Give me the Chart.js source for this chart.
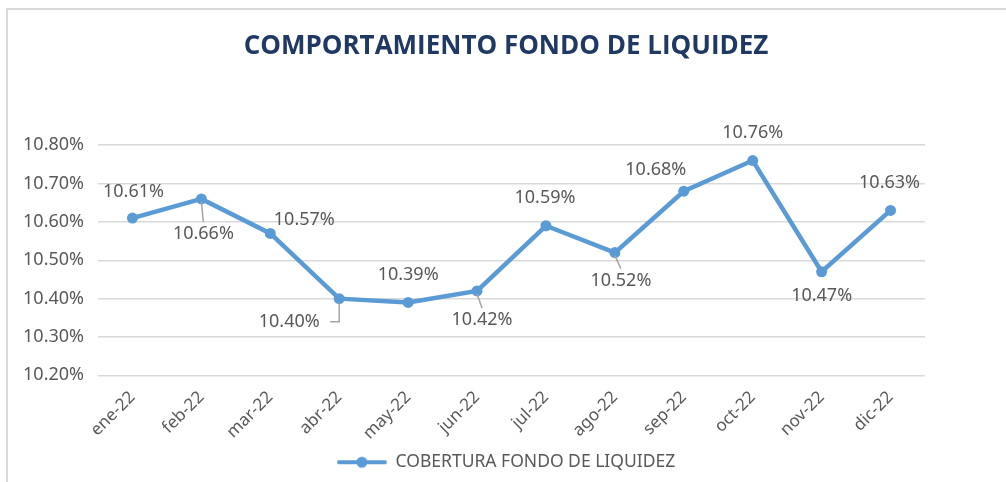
<!DOCTYPE html>
<html>
<head>
<meta charset="utf-8">
<script src="https://cdn.jsdelivr.net/npm/chart.js@4.4.0/dist/chart.umd.min.js"></script>
<style>
  html, body { margin: 0; padding: 0; background: #fff; }
  #wrap { position: relative; width: 1006px; height: 482px; }
</style>
</head>
<body>
<div id="wrap"><canvas id="liquidezChart"></canvas></div>
<script>
const months = ['ene-22', 'feb-22', 'mar-22', 'abr-22', 'may-22', 'jun-22',
                'jul-22', 'ago-22', 'sep-22', 'oct-22', 'nov-22', 'dic-22'];
const cobertura = [10.61, 10.66, 10.57, 10.40, 10.39, 10.42,
                   10.59, 10.52, 10.68, 10.76, 10.47, 10.63];
const yTicks = [10.20, 10.30, 10.40, 10.50, 10.60, 10.70, 10.80];

// where each value label sits relative to its point, and whether it gets a leader line
const labelOffsets = [[1, -26], [2, 35], [34, -14], [-50, 23], [0, -28], [5, 29],
                      [-1, -28], [6, 28], [-28, -21], [0, -28], [0, 24], [-1, -28]];
const leaders = ['', 'straight', '', 'elbow', '', 'straight', '', 'straight', '', '', '', ''];

const blue = '#5b9bd5';
const gray = '#595959';

// legend symbol: line with a dot in the middle
const legendIcon = document.createElement('canvas');
legendIcon.width = 50;
legendIcon.height = 14;
(function() {
    const c = legendIcon.getContext('2d');
    c.strokeStyle = blue;
    c.lineWidth = 4;
    c.lineCap = 'round';
    c.beginPath();
    c.moveTo(2, 7);
    c.lineTo(48, 7);
    c.stroke();
    c.fillStyle = blue;
    c.beginPath();
    c.arc(25, 7, 5.5, 0, Math.PI * 2);
    c.fill();
})();

const framePlugin = {
    id: 'frame',
    beforeDraw(chart) {
        const ctx = chart.ctx;
        ctx.save();
        ctx.strokeStyle = '#d9d9d9';
        ctx.lineWidth = 2;
        ctx.beginPath();
        ctx.moveTo(7, 482);
        ctx.lineTo(7, 9);
        ctx.lineTo(1006, 9);
        ctx.stroke();
        ctx.restore();
    }
};

const valueLabels = {
    id: 'valueLabels',
    afterDatasetsDraw(chart) {
        const ctx = chart.ctx;
        const meta = chart.getDatasetMeta(0);
        ctx.save();
        ctx.font = '18px "Noto Sans"';
        ctx.textAlign = 'center';
        ctx.textBaseline = 'middle';
        meta.data.forEach(function(pt, i) {
            const tx = pt.x + labelOffsets[i][0];
            const ty = pt.y + labelOffsets[i][1];
            ctx.strokeStyle = '#a6a6a6';
            ctx.lineWidth = 1.5;
            if (leaders[i] === 'straight') {
                ctx.beginPath();
                ctx.moveTo(pt.x, pt.y + 3);
                ctx.lineTo(pt.x + labelOffsets[i][0], ty - 12);
                ctx.stroke();
            } else if (leaders[i] === 'elbow') {
                ctx.beginPath();
                ctx.moveTo(pt.x, pt.y + 4);
                ctx.lineTo(pt.x, ty);
                ctx.lineTo(pt.x - 9, ty);
                ctx.stroke();
            }
            ctx.fillStyle = gray;
            ctx.fillText(cobertura[i].toFixed(2) + '%', tx, ty);
        });
        ctx.restore();
    }
};

new Chart(document.getElementById('liquidezChart'), {
    type: 'line',
    data: {
        labels: months,
        datasets: [{
            label: 'COBERTURA FONDO DE LIQUIDEZ',
            data: cobertura,
            borderColor: blue,
            backgroundColor: blue,
            borderWidth: 4.5,
            pointRadius: 5.5,
            pointHoverRadius: 5.5,
            pointBackgroundColor: blue,
            pointBorderWidth: 0,
            tension: 0
        }]
    },
    options: {
        responsive: true,
        maintainAspectRatio: false,
        animation: false,
        layout: { padding: { top: 16, right: 10, bottom: 1, left: 16 } },
        plugins: {
            title: {
                display: true,
                text: 'COMPORTAMIENTO FONDO DE LIQUIDEZ',
                color: '#1f3864',
                font: { family: '"Open Sans"', size: 26, weight: 'bold' },
                padding: { top: 15, bottom: 83 }
            },
            legend: {
                position: 'bottom',
                labels: {
                    usePointStyle: true,
                    pointStyle: legendIcon,
                    pointStyleWidth: 50,
                    color: gray,
                    font: { family: '"Noto Sans"', size: 17.5 },
                    padding: 6,
                    generateLabels: function(chart) {
                        return [{
                            text: chart.data.datasets[0].label,
                            pointStyle: legendIcon,
                            fontColor: gray,
                            strokeStyle: blue,
                            fillStyle: blue,
                            lineWidth: 0,
                            datasetIndex: 0
                        }];
                    }
                }
            },
            tooltip: { enabled: false }
        },
        scales: {
            x: {
                offset: true,
                grid: { display: false },
                border: { display: false },
                ticks: {
                    color: gray,
                    font: { family: '"Noto Sans"', size: 17 },
                    minRotation: 45,
                    maxRotation: 45,
                    padding: 4
                }
            },
            y: {
                min: yTicks[0],
                max: yTicks[yTicks.length - 1],
                afterBuildTicks: function(scale) {
                    scale.ticks = yTicks.map(function(v) { return { value: v }; });
                },
                afterFit: function(scale) { scale.width = 82; },
                grid: { color: '#d9d9d9', lineWidth: 1.5, drawTicks: false },
                border: { display: false },
                ticks: {
                    color: gray,
                    font: { family: '"Noto Sans"', size: 18 },
                    padding: 14,
                    callback: function(v) { return Number(v).toFixed(2) + '%'; }
                }
            },
            // empty right-hand axis, only to keep the plot clear of the right edge
            yRight: {
                position: 'right',
                min: 0,
                max: 1,
                afterFit: function(scale) { scale.width = 71; },
                grid: { display: false },
                border: { display: false },
                ticks: { display: false }
            }
        }
    },
    plugins: [framePlugin, valueLabels]
});
</script>
</body>
</html>
